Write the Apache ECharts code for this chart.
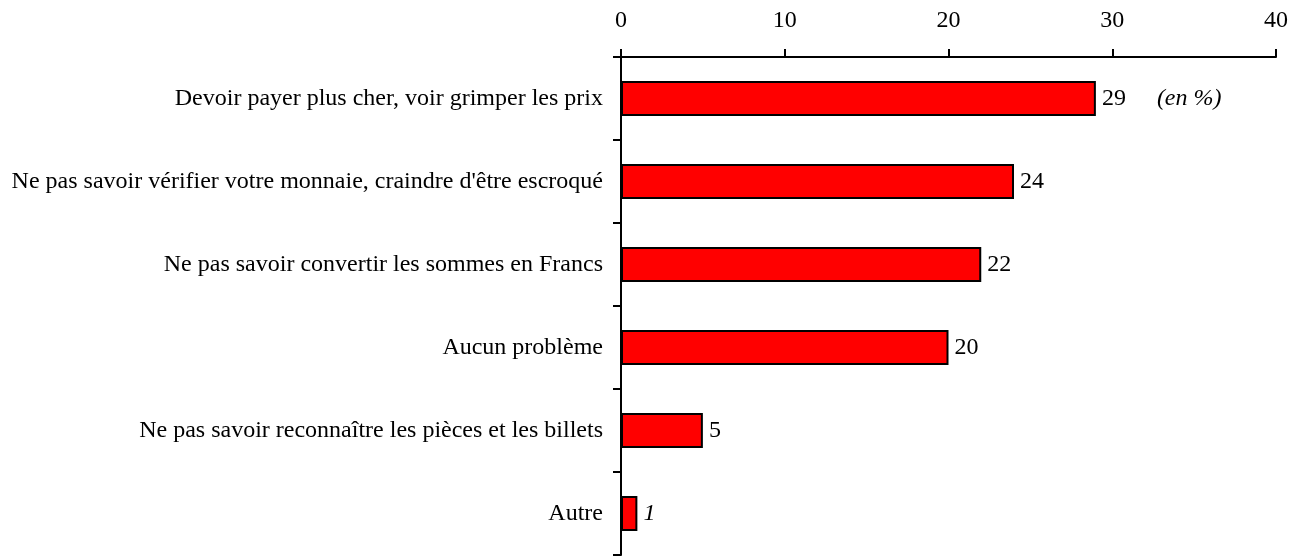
<!DOCTYPE html>
<html>
<head>
<meta charset="utf-8">
<script src="https://cdn.jsdelivr.net/npm/echarts@6/dist/echarts.min.js"></script>
<style>
  html, body { margin: 0; padding: 0; background: #fff; }
  #chart { width: 1307px; height: 557px; }
</style>
</head>
<body>
<div id="chart"></div>
<script>
const categories = [
  "Devoir payer plus cher, voir grimper les prix",
  "Ne pas savoir vérifier votre monnaie, craindre d'être escroqué",
  "Ne pas savoir convertir les sommes en Francs",
  "Aucun problème",
  "Ne pas savoir reconnaître les pièces et les billets",
  "Autre"
];
const values = [29, 24, 22, 20, 5, 1];
const xTicks = [0, 10, 20, 30, 40];
const unitNote = "(en %)";

const font = "'Liberation Serif', 'Times New Roman', serif";

const chart = echarts.init(document.getElementById('chart'));

const seriesData = values.map((v, i) => {
  const item = { value: v };
  if (i === 0) {
    item.label = { formatter: '{v|' + v + '}{n|' + unitNote + '}' };
  }
  if (i === values.length - 1) {
    item.label = { fontStyle: 'italic' };
  }
  return item;
});

chart.setOption({
  animation: false,
  grid: { left: 621, right: 31, top: 57, bottom: 2, containLabel: false },
  xAxis: {
    type: 'value',
    position: 'top',
    min: xTicks[0],
    max: xTicks[xTicks.length - 1],
    interval: 10,
    axisLine: { show: true, lineStyle: { color: '#000', width: 2 } },
    axisTick: { show: true, inside: false, length: 8, lineStyle: { color: '#000', width: 2 } },
    axisLabel: { color: '#000', fontFamily: font, fontSize: 24, margin: 24 },
    splitLine: { show: false }
  },
  yAxis: {
    type: 'category',
    inverse: true,
    data: categories,
    axisLine: { show: true, lineStyle: { color: '#000', width: 2 } },
    axisTick: { show: true, inside: false, length: 8, alignWithLabel: false, lineStyle: { color: '#000', width: 2 } },
    axisLabel: { color: '#000', fontFamily: font, fontSize: 24, margin: 18 },
    splitLine: { show: false }
  },
  series: [{
    type: 'bar',
    data: seriesData,
    barWidth: 35,
    itemStyle: { color: '#ff0000', borderColor: '#000', borderWidth: 2 },
    label: {
      show: true,
      position: 'right',
      distance: 6,
      color: '#000',
      fontFamily: font,
      fontSize: 24,
      rich: {
        v: { color: '#000', fontFamily: font, fontSize: 24 },
        n: { color: '#000', fontFamily: font, fontSize: 24, fontStyle: 'italic', padding: [0, 0, 0, 31] }
      }
    }
  }]
});
</script>
</body>
</html>
